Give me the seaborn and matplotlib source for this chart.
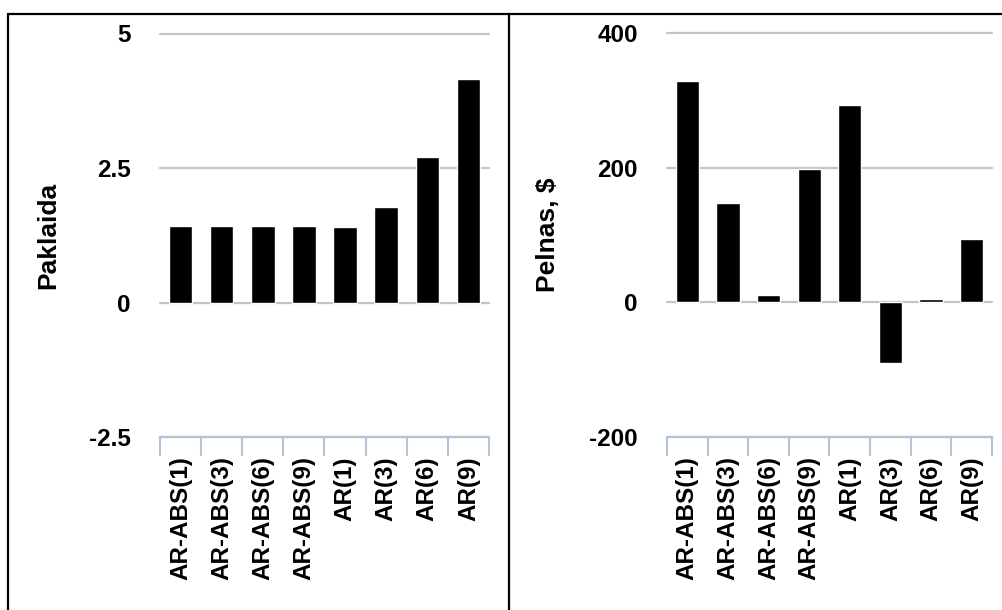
import matplotlib
matplotlib.use('Agg')
import matplotlib.pyplot as plt
from matplotlib.lines import Line2D
import seaborn as sns

categories = ['AR-ABS(1)', 'AR-ABS(3)', 'AR-ABS(6)', 'AR-ABS(9)',
              'AR(1)', 'AR(3)', 'AR(6)', 'AR(9)']
paklaida = [1.43, 1.43, 1.43, 1.43, 1.40, 1.77, 2.70, 4.15]
pelnas = [330, 148, 11, 199, 294, -90, 5, 95]

left_ticks = [-2.5, 0, 2.5, 5]
left_ticklabels = ['-2.5', '0', '2.5', '5']
right_ticks = [-200, 0, 200, 400]
right_ticklabels = ['-200', '0', '200', '400']

sns.set_style('white')
plt.rcParams['font.family'] = ['Liberation Sans', 'DejaVu Sans']
plt.rcParams['font.weight'] = 'bold'
plt.rcParams['axes.labelcolor'] = 'black'

fig = plt.figure(figsize=(10.03, 6.10), dpi=100)
ax1 = fig.add_axes([160 / 1003, 1 - 437 / 610, 329 / 1003, 403.5 / 610])
ax2 = fig.add_axes([667 / 1003, 1 - 437 / 610, 325 / 1003, 403.5 / 610])

axis_col = '#B4C4D8'
grid_col = '#C4C4C4'


def style(ax, vals, ticks, ticklabels, ylabel, label_x):
    sns.barplot(x=categories, y=vals, color='black', saturation=1,
                width=0.57, ax=ax)
    ax.set_ylim(ticks[0], ticks[-1])
    ax.set_xlim(-0.5, len(categories) - 0.5)
    ax.set_yticks(ticks)
    ax.set_yticklabels(ticklabels, fontsize=17.5, fontweight='bold')
    ax.yaxis.grid(True, color=grid_col, linewidth=1.6)
    for gl in ax.get_ygridlines():
        gl.set_clip_on(False)
    ax.set_axisbelow(True)
    for s in ['top', 'right', 'left']:
        ax.spines[s].set_visible(False)
    ax.spines['bottom'].set_color(axis_col)
    ax.spines['bottom'].set_linewidth(1.5)
    ax.tick_params(axis='y', length=0, pad=21, labelcolor='black')
    ax.set_xticks([i - 0.5 for i in range(len(categories) + 1)], minor=True)
    ax.set_xticks(range(len(categories)))
    ax.tick_params(axis='x', which='major', bottom=True, length=0, pad=14,
                   labelcolor='black')
    ax.tick_params(axis='x', which='minor', bottom=True, length=14,
                   width=1.5, color=axis_col, direction='out')
    ax.set_xticklabels(categories, rotation=90, fontsize=17.5,
                       fontweight='bold', va='top')
    ax.set_ylabel(ylabel, fontsize=19, fontweight='bold', color='black')
    ax.yaxis.set_label_coords(label_x, 0.5)
    ax.set_xlabel('')


style(ax1, paklaida, left_ticks, left_ticklabels, 'Paklaida', -0.304)
style(ax2, pelnas, right_ticks, right_ticklabels, 'Pelnas, $', -0.328)

# chart borders
W, H = 1003, 610
for xs, ys in [([8 / W, 1], [1 - 14 / H, 1 - 14 / H]),
               ([8 / W, 8 / W], [0, 1 - 14 / H]),
               ([509 / W, 509 / W], [0, 1 - 14 / H])]:
    fig.add_artist(Line2D(xs, ys, color='black', linewidth=1.6))

fig.savefig('out.png', dpi=100)
